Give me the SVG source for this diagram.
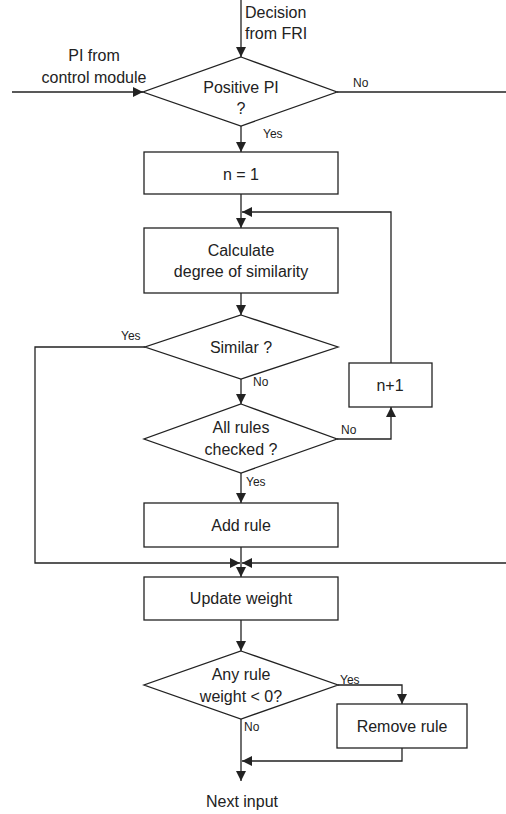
<svg xmlns="http://www.w3.org/2000/svg" width="506" height="814" viewBox="0 0 506 814">
<style>
.shape{fill:#fff;stroke:#222;stroke-width:1.3}
.line{fill:none;stroke:#222;stroke-width:1.3}
.arr{marker-end:url(#ah)}
text{font-family:"Liberation Sans",Arial,sans-serif;fill:#222}
.t{font-size:16px;text-anchor:middle}
.s{font-size:12px}
</style>
<defs>
<marker id="ah" viewBox="0 0 10 10" refX="10" refY="5" markerWidth="10" markerHeight="10" markerUnits="userSpaceOnUse" orient="auto">
<path d="M0,0 L10,5 L0,10 Z" fill="#222"/>
</marker>
</defs>
<rect width="506" height="814" fill="#fff"/>
<g id="connectors">
<path class="line arr" d="M241,0 V57"/>
<path class="line arr" d="M12,92 H143"/>
<path class="line" d="M337,92 H506"/>
<path class="line arr" d="M241,126 V152"/>
<path class="line arr" d="M241,194 V228"/>
<path class="line arr" d="M391,363 V212 H242"/>
<path class="line arr" d="M241,293 V315"/>
<path class="line arr" d="M241,379 V404"/>
<path class="line arr" d="M145,347 H35 V563 H240"/>
<path class="line arr" d="M337,439 H391 V407"/>
<path class="line arr" d="M241,473 V503"/>
<path class="line arr" d="M506,563 H242"/>
<path class="line arr" d="M241,547 V577"/>
<path class="line arr" d="M241,620 V651"/>
<path class="line arr" d="M338,685 H402 V704"/>
<path class="line arr" d="M402,748 V761 H242"/>
<path class="line arr" d="M241,719 V781"/>
</g>
<g id="labels">
<text class="t" x="245" y="18" style="text-anchor:start">Decision</text>
<text class="t" x="245" y="39" style="text-anchor:start">from FRI</text>
<text class="t" x="94" y="61">PI from</text>
<text class="t" x="94" y="83">control module</text>
<text class="s" x="353" y="87">No</text>
<text class="s" x="263" y="138">Yes</text>
<text class="s" x="121" y="340">Yes</text>
<text class="s" x="253" y="386">No</text>
<text class="s" x="341" y="434">No</text>
<text class="s" x="246" y="486">Yes</text>
<text class="s" x="340" y="684">Yes</text>
<text class="s" x="244" y="731">No</text>
<text class="t" x="242" y="807">Next input</text>
</g>
<g id="positive_pi">
<polygon class="shape" points="241,57 337,92 241,126 143,92"/>
<text class="t" x="241" y="93">Positive PI</text>
<text class="t" x="241" y="114">?</text>
</g>
<g id="n_eq_1">
<rect class="shape" x="144" y="152" width="194" height="42"/>
<text class="t" x="241" y="180">n = 1</text>
</g>
<g id="calculate">
<rect class="shape" x="144" y="228" width="194" height="65"/>
<text class="t" x="241" y="256">Calculate</text>
<text class="t" x="241" y="277">degree of similarity</text>
</g>
<g id="similar">
<polygon class="shape" points="241,315 338,347 241,379 145,347"/>
<text class="t" x="241" y="353">Similar ?</text>
</g>
<g id="n_plus_1">
<rect class="shape" x="349" y="363" width="83" height="44"/>
<text class="t" x="390" y="391">n+1</text>
</g>
<g id="all_rules">
<polygon class="shape" points="241,404 337,439 241,473 144,439"/>
<text class="t" x="241" y="433">All rules</text>
<text class="t" x="241" y="455">checked ?</text>
</g>
<g id="add_rule">
<rect class="shape" x="144" y="503" width="194" height="44"/>
<text class="t" x="241" y="531">Add rule</text>
</g>
<g id="update_weight">
<rect class="shape" x="144" y="577" width="194" height="43"/>
<text class="t" x="241" y="604">Update weight</text>
</g>
<g id="any_rule">
<polygon class="shape" points="241,651 338,685 241,719 144,685"/>
<text class="t" x="241" y="680">Any rule</text>
<text class="t" x="241" y="702">weight &lt; 0?</text>
</g>
<g id="remove_rule">
<rect class="shape" x="337" y="704" width="130" height="44"/>
<text class="t" x="402" y="732">Remove rule</text>
</g>
</svg>
